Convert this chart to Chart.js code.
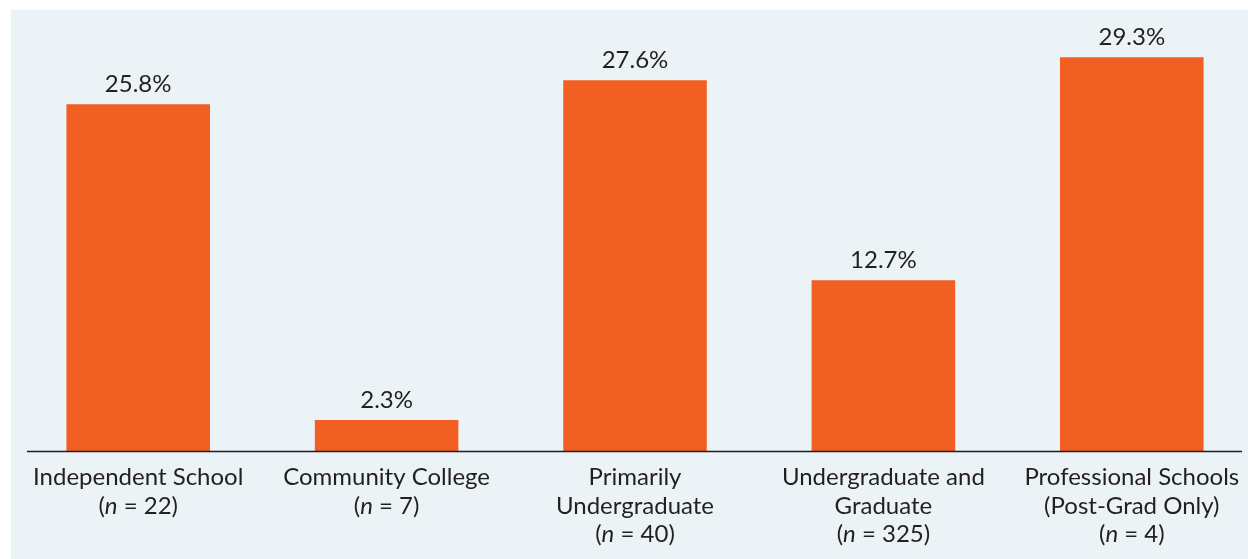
<!DOCTYPE html>
<html>
<head>
<meta charset="utf-8">
<script src="https://cdn.jsdelivr.net/npm/chart.js@4.4.1/dist/chart.umd.min.js"></script>
<style>
  html, body { margin: 0; padding: 0; background: #fff; overflow: hidden; }
  #panel { position: absolute; left: 11px; top: 10px; right: 0; bottom: 0; background: #ecf3f7; }
  #wrap { position: absolute; left: 0; top: 0; width: 1256px; height: 559px; }
</style>
</head>
<body>
<div id="panel"></div>
<div id="wrap"><canvas id="demoChart"></canvas></div>
<script>
// --- data ---
const categories = [
    ['Independent School'],
    ['Community College'],
    ['Primarily', 'Undergraduate'],
    ['Undergraduate and', 'Graduate'],
    ['Professional Schools', '(Post-Grad Only)']
];
const sampleSizes = [22, 7, 40, 325, 4];
const shares = [25.8, 2.3, 27.6, 12.7, 29.3];

const TEXT = '#231f20';
const FONT = 'Lato, "Open Sans", sans-serif';
const SIZE = 24;

// value labels above each bar
const valueLabels = {
    id: 'valueLabels',
    afterDatasetsDraw(chart) {
        const ctx = chart.ctx;
        const meta = chart.getDatasetMeta(0);
        ctx.save();
        ctx.font = SIZE + 'px ' + FONT;
        ctx.fillStyle = TEXT;
        ctx.textAlign = 'center';
        ctx.textBaseline = 'alphabetic';
        meta.data.forEach((bar, i) => {
            ctx.fillText(shares[i].toFixed(1) + '%', bar.x, bar.y - 12.5);
        });
        ctx.restore();
    }
};

// category labels with italic n, plus axis line
const categoryLabels = {
    id: 'categoryLabels',
    afterDraw(chart) {
        const ctx = chart.ctx;
        const xs = chart.scales.x;
        const area = chart.chartArea;
        ctx.save();
        ctx.strokeStyle = TEXT;
        ctx.lineWidth = 1.5;
        ctx.beginPath();
        ctx.moveTo(area.left + 13, area.bottom + 0.5);
        ctx.lineTo(area.right - 14, area.bottom + 0.5);
        ctx.stroke();

        ctx.fillStyle = TEXT;
        ctx.textBaseline = 'alphabetic';
        const lineH = 28.5;
        const reg = SIZE + 'px ' + FONT;
        categories.forEach((lines, i) => {
            const cx = xs.getPixelForValue(i);
            let y = area.bottom + 34;
            ctx.font = reg;
            ctx.textAlign = 'center';
            lines.forEach(l => { ctx.fillText(l, cx, y); y += lineH; });
            // (n = X)
            const parts = [
                { t: '(', f: reg },
                { t: 'n', f: 'italic ' + reg },
                { t: ' = ' + sampleSizes[i] + ')', f: reg }
            ];
            let total = 0;
            parts.forEach(p => { ctx.font = p.f; p.w = ctx.measureText(p.t).width; total += p.w; });
            let x = cx - total / 2;
            ctx.textAlign = 'left';
            parts.forEach(p => { ctx.font = p.f; ctx.fillText(p.t, x, y); x += p.w; });
        });
        ctx.restore();
    }
};

const ctx = document.getElementById('demoChart').getContext('2d');
new Chart(ctx, {
    type: 'bar',
    data: {
        labels: categories.map(c => c.join(' ')),
        datasets: [{
            data: shares,
            backgroundColor: '#f15f22',
            borderWidth: 0,
            barPercentage: 0.578,
            categoryPercentage: 1
        }]
    },
    options: {
        responsive: true,
        maintainAspectRatio: false,
        animation: false,
        layout: { padding: { left: 14, right: 0, top: 21, bottom: 108 } },
        plugins: { legend: { display: false }, tooltip: { enabled: false } },
        scales: {
            x: { display: false },
            y: { display: false, min: 0, max: 32 }
        }
    },
    plugins: [valueLabels, categoryLabels]
});
</script>
</body>
</html>
